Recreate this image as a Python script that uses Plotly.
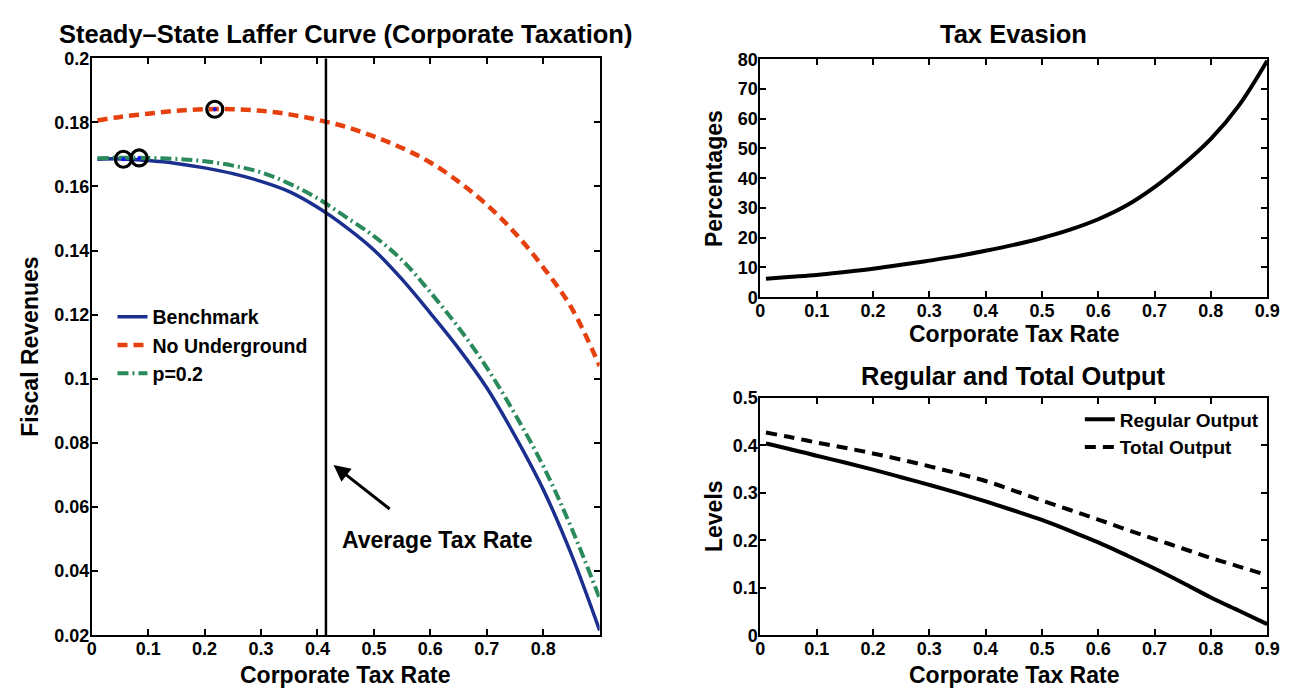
import plotly.graph_objects as go

# ---------------------------------------------------------------- data
tax_rate = [0.01, 0.05, 0.10, 0.15, 0.20, 0.25, 0.30, 0.35, 0.40, 0.45,
            0.50, 0.55, 0.60, 0.65, 0.70, 0.75, 0.80, 0.85, 0.90]

rev_benchmark = [0.1685, 0.1686, 0.1681, 0.1672, 0.1658, 0.1640, 0.1616, 0.1584, 0.1535, 0.1474,
                 0.1402, 0.1310, 0.1205, 0.1095, 0.0972, 0.0822, 0.0655, 0.0452, 0.0215]
rev_no_underground = [0.1806, 0.1817, 0.1827, 0.1836, 0.1841, 0.1841, 0.1836, 0.1825, 0.1808, 0.1786,
                      0.1756, 0.1720, 0.1675, 0.1615, 0.1543, 0.1455, 0.1348, 0.1222, 0.1040]
rev_p02 = [0.1688, 0.1690, 0.1689, 0.1686, 0.1679, 0.1665, 0.1644, 0.1609, 0.1563, 0.1505,
           0.1445, 0.1370, 0.1270, 0.1160, 0.1035, 0.0890, 0.0728, 0.0535, 0.0315]

peak_tax = [0.056, 0.084, 0.218]
peak_rev = [0.1685, 0.1689, 0.1841]
avg_tax_rate = 0.415

evasion_pct = [6.2, 6.8, 7.5, 8.5, 9.6, 10.9, 12.3, 13.8, 15.6, 17.6,
               19.9, 22.7, 26.2, 30.8, 37.0, 44.5, 53.2, 64.5, 79.5]

regular_output = [0.404, 0.393, 0.378, 0.364, 0.349, 0.333, 0.317, 0.300, 0.282, 0.263,
                  0.243, 0.220, 0.196, 0.169, 0.141, 0.111, 0.080, 0.052, 0.024]
total_output = [0.427, 0.418, 0.406, 0.395, 0.383, 0.370, 0.356, 0.341, 0.325, 0.305,
                0.284, 0.264, 0.244, 0.223, 0.203, 0.183, 0.163, 0.145, 0.127]

x_ticks_left = [0, 0.1, 0.2, 0.3, 0.4, 0.5, 0.6, 0.7, 0.8]
x_ticks_right = [0, 0.1, 0.2, 0.3, 0.4, 0.5, 0.6, 0.7, 0.8, 0.9]
y_ticks_left = [0.02, 0.04, 0.06, 0.08, 0.1, 0.12, 0.14, 0.16, 0.18, 0.2]
y_ticks_levels = [0, 0.1, 0.2, 0.3, 0.4, 0.5]

# ---------------------------------------------------------------- style
FONT = "Liberation Sans, Arial, Helvetica, sans-serif"
BLUE = "#1b2f8e"
RED = "#e5400e"
GREEN = "#2a8a5c"
W, H = 1293, 696


def bold(size):
    return dict(family=FONT, size=size, color="black", weight="bold")


def fmt(v):
    return "0" if v == 0 else f"{v:g}"


def axis(**kw):
    base = dict(showline=True, linecolor="black", linewidth=2, mirror="ticks",
                ticks="inside", ticklen=6, tickwidth=1.5, tickcolor="black",
                showgrid=False, zeroline=False, tickfont=bold(18))
    base.update(kw)
    return base


def xaxis(**kw):
    return axis(ticklabelstandoff=-4, **kw)


def yaxis(**kw):
    return axis(ticklabelstandoff=-3, **kw)


fig = go.Figure()

# Laffer curves
fig.add_trace(go.Scatter(x=tax_rate, y=rev_benchmark, mode="lines", name="Benchmark",
                         line=dict(color=BLUE, width=3.5, shape="spline"),
                         xaxis="x", yaxis="y", legend="legend"))
fig.add_trace(go.Scatter(x=tax_rate, y=rev_no_underground, mode="lines", name="No Underground",
                         line=dict(color=RED, width=4.5, dash="10px,6px", shape="spline"),
                         xaxis="x", yaxis="y", legend="legend"))
fig.add_trace(go.Scatter(x=tax_rate, y=rev_p02, mode="lines", name="p=0.2",
                         line=dict(color=GREEN, width=4, dash="11px,4px,2px,4px", shape="spline"),
                         xaxis="x", yaxis="y", legend="legend"))

# average tax rate marker line
fig.add_trace(go.Scatter(x=[avg_tax_rate, avg_tax_rate], y=[0.02, 0.2], mode="lines",
                         line=dict(color="black", width=2.5), showlegend=False,
                         xaxis="x", yaxis="y"))

# revenue-maximising points
fig.add_trace(go.Scatter(x=peak_tax, y=peak_rev, mode="markers", showlegend=False,
                         marker=dict(symbol="circle-open", size=16, color="black",
                                     line=dict(width=3.2, color="black")),
                         xaxis="x", yaxis="y"))
fig.add_trace(go.Scatter(x=peak_tax, y=peak_rev, mode="markers", showlegend=False,
                         marker=dict(symbol="circle", size=4, color="#1010ff"),
                         xaxis="x", yaxis="y"))

# tax evasion
fig.add_trace(go.Scatter(x=tax_rate, y=evasion_pct, mode="lines", showlegend=False,
                         line=dict(color="black", width=4, shape="spline"),
                         xaxis="x2", yaxis="y2"))

# output levels
fig.add_trace(go.Scatter(x=tax_rate, y=regular_output, mode="lines", name="Regular Output",
                         line=dict(color="black", width=4, shape="spline"),
                         xaxis="x3", yaxis="y3", legend="legend2"))
fig.add_trace(go.Scatter(x=tax_rate, y=total_output, mode="lines", name="Total Output",
                         line=dict(color="black", width=4, dash="11px,7px", shape="spline"),
                         xaxis="x3", yaxis="y3", legend="legend2"))


def px_x(px):
    return px / W


def px_y(py):
    return 1 - py / H


left_dom = [px_x(88), px_x(603)]
right_dom = [px_x(766), px_x(1280)]

fig.update_layout(
    width=W, height=H,
    margin=dict(l=0, r=0, t=0, b=0),
    paper_bgcolor="white", plot_bgcolor="white",
    font=bold(18),
    xaxis=xaxis(domain=left_dom, range=[0, 0.9], tickvals=x_ticks_left,
                ticktext=[fmt(v) for v in x_ticks_left], anchor="y"),
    yaxis=yaxis(domain=[px_y(643.7), px_y(49.7)], range=[0.02, 0.2], tickvals=y_ticks_left,
                ticktext=[fmt(v) for v in y_ticks_left], anchor="x"),
    xaxis2=xaxis(domain=right_dom, range=[0, 0.9], tickvals=x_ticks_right,
                 ticktext=[fmt(v) for v in x_ticks_right], anchor="y2"),
    yaxis2=yaxis(domain=[px_y(295.7), px_y(50.7)], range=[0, 80], dtick=10, anchor="x2"),
    xaxis3=xaxis(domain=right_dom, range=[0, 0.9], tickvals=x_ticks_right,
                 ticktext=[fmt(v) for v in x_ticks_right], anchor="y3"),
    yaxis3=yaxis(domain=[px_y(644), px_y(399.3)], range=[0, 0.5], tickvals=y_ticks_levels,
                 ticktext=[fmt(v) for v in y_ticks_levels], anchor="x3"),
    legend=dict(x=px_x(109), y=px_y(296), xanchor="left", yanchor="top",
                bgcolor="rgba(0,0,0,0)", font=bold(19.5), tracegroupgap=0),
    legend2=dict(x=px_x(1090), y=px_y(402), xanchor="left", yanchor="top",
                 bgcolor="rgba(0,0,0,0)", font=bold(19), tracegroupgap=0),
)


def label(text, x, y, size, angle=0, **kw):
    d = dict(text=text, x=px_x(x), y=px_y(y), xref="paper", yref="paper",
             showarrow=False, font=bold(size), textangle=angle,
             xanchor="center", yanchor="middle")
    d.update(kw)
    fig.add_annotation(**d)


# titles
label("Steady–State Laffer Curve (Corporate Taxation)", 345, 25, 25.5)
label("Tax Evasion", 1023, 25, 25.5)
label("Regular and Total Output", 1023, 376.5, 25.5)

# axis titles
label("Fiscal Revenues", 25, 347, 23, angle=-90)
label("Corporate Tax Rate", 345, 685, 23)
label("Percentages", 719, 173, 23, angle=-90)
label("Corporate Tax Rate", 1023, 334, 23)
label("Levels", 719, 521, 23, angle=-90)
label("Corporate Tax Rate", 1023, 685, 23)

# average tax rate pointer
fig.add_annotation(x=0.4285, y=0.0731, ax=0.5306, ay=0.059, xref="x", yref="y",
                   axref="x", ayref="y", text="", showarrow=True, arrowhead=2,
                   arrowsize=1.1, arrowwidth=3, arrowcolor="black")
fig.add_annotation(x=0.44, y=0.0496, xref="x", yref="y", text="Average Tax Rate",
                   showarrow=False, font=bold(23), xanchor="left", yanchor="middle")

fig.write_html("out.html")
